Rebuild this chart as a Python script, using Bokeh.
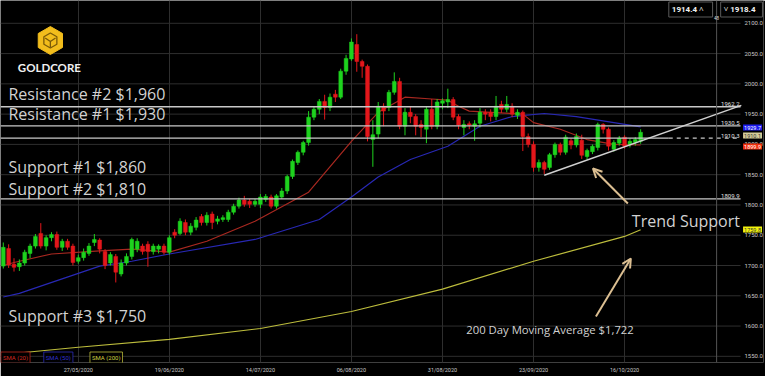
from bokeh.plotting import figure
from bokeh.models import (Range1d, FixedTicker, PrintfTickFormatter, Label, Arrow,
                          OpenHead, Span, ColumnDataSource)
from bokeh.embed import file_html
from bokeh.resources import INLINE

# ---------------- data ----------------
opens = [1699, 1728, 1702, 1698, 1704, 1720, 1732, 1753, 1732, 1746,
         1751, 1730, 1740, 1732, 1707, 1713, 1720, 1738, 1742, 1723,
         1704, 1715, 1686, 1704, 1715, 1727, 1732, 1735, 1723, 1727,
         1732, 1722, 1755, 1753, 1771, 1755, 1763, 1781, 1771, 1785,
         1773, 1776, 1776, 1788, 1798, 1808, 1806, 1801, 1801, 1809,
         1813, 1798, 1813, 1823, 1847, 1870, 1887, 1903, 1945, 1958,
         1971, 1961, 1983, 1978, 2021, 2041, 2065, 2037, 2029, 1908,
         1917, 1963, 1961, 1986, 2004, 1930, 1953, 1946, 1933, 1925,
         1958, 1930, 1968, 1970, 1974, 1946, 1928, 1934, 1930, 1935,
         1953, 1953, 1946, 1966, 1958, 1963, 1948, 1953, 1913, 1900,
         1862, 1870, 1862, 1883, 1900, 1887, 1906, 1899, 1907, 1880,
         1888, 1895, 1933, 1925, 1892, 1902, 1912, 1900, 1903, 1905]
highs = [1738, 1735, 1712, 1710, 1726, 1736, 1752, 1770, 1750, 1755,
         1756, 1744, 1744, 1736, 1718, 1728, 1737, 1752, 1745, 1727,
         1722, 1719, 1710, 1720, 1746, 1745, 1736, 1740, 1736, 1735,
         1736, 1750, 1760, 1778, 1776, 1770, 1780, 1785, 1788, 1789,
         1782, 1783, 1792, 1802, 1812, 1815, 1810, 1810, 1818, 1818,
         1817, 1818, 1828, 1850, 1875, 1890, 1906, 1955, 1962, 1975,
         1982, 1984, 1990, 2025, 2048, 2075, 2082, 2040, 2032, 1940,
         1970, 1968, 1990, 2019, 2010, 1960, 1962, 1950, 1940, 1962,
         1975, 1975, 1976, 1992, 1978, 1950, 1940, 1938, 1940, 1960,
         1958, 1958, 1980, 1972, 1980, 1968, 1958, 1956, 1918, 1905,
         1875, 1873, 1886, 1903, 1903, 1916, 1910, 1918, 1916, 1893,
         1900, 1936, 1935, 1928, 1907, 1914, 1915, 1910, 1912, 1925]
lows = [1695, 1696, 1690, 1691, 1700, 1712, 1728, 1728, 1725, 1740,
        1726, 1724, 1726, 1700, 1703, 1708, 1716, 1732, 1720, 1694,
        1700, 1672, 1682, 1700, 1710, 1722, 1718, 1698, 1718, 1720,
        1718, 1718, 1745, 1750, 1750, 1750, 1758, 1766, 1766, 1760,
        1768, 1772, 1772, 1784, 1794, 1797, 1795, 1797, 1795, 1805,
        1794, 1794, 1810, 1818, 1843, 1866, 1882, 1898, 1940, 1950,
        1941, 1955, 1970, 1975, 2015, 2038, 2020, 2010, 1905, 1863,
        1910, 1930, 1955, 1982, 1925, 1915, 1935, 1915, 1912, 1902,
        1925, 1925, 1958, 1960, 1940, 1925, 1915, 1925, 1906, 1928,
        1940, 1938, 1940, 1952, 1953, 1945, 1942, 1889, 1895, 1855,
        1855, 1851, 1858, 1878, 1882, 1883, 1892, 1895, 1876, 1875,
        1884, 1890, 1918, 1890, 1888, 1898, 1893, 1895, 1898, 1901]
closes = [1730, 1701, 1697, 1704, 1722, 1732, 1748, 1732, 1746, 1751,
          1730, 1740, 1730, 1705, 1713, 1722, 1732, 1743, 1727, 1700,
          1718, 1689, 1704, 1715, 1743, 1740, 1723, 1723, 1732, 1732,
          1722, 1746, 1750, 1773, 1755, 1765, 1775, 1771, 1783, 1771,
          1777, 1779, 1788, 1798, 1808, 1801, 1801, 1806, 1813, 1814,
          1798, 1815, 1823, 1847, 1872, 1887, 1903, 1945, 1958, 1971,
          1961, 1978, 1978, 2021, 2042, 2069, 2037, 2029, 1913, 1916,
          1963, 1955, 1986, 2004, 1930, 1953, 1946, 1930, 1928, 1958,
          1930, 1970, 1972, 1974, 1945, 1932, 1933, 1932, 1934, 1953,
          1950, 1946, 1963, 1958, 1966, 1950, 1953, 1913, 1900, 1862,
          1870, 1859, 1883, 1900, 1887, 1912, 1899, 1913, 1882, 1890,
          1897, 1933, 1925, 1897, 1903, 1910, 1897, 1905, 1908, 1920]

sma20_idx = [0, 2, 9, 18, 24, 31, 38, 47, 57, 65, 70, 75, 80, 83, 85, 87, 91, 97, 99, 104, 109, 114, 119]
sma20_val = [1700, 1705, 1719, 1724, 1727, 1722, 1740, 1773, 1821, 1905, 1953, 1978, 1975, 1973,
             1963, 1955, 1953, 1950, 1936, 1925, 1908, 1900, 1899]
sma50_idx = [0, 3, 18, 24, 31, 47, 59, 65, 70, 76, 83, 89, 95, 101, 107, 114, 119]
sma50_val = [1648, 1654, 1699, 1707, 1719, 1743, 1776, 1813, 1846, 1875, 1897, 1930, 1946,
             1951, 1946, 1936, 1929]
sma200_idx = [0, 14, 31, 48, 65, 82, 99, 116, 119]
sma200_val = [1553, 1565, 1578, 1596, 1624, 1661, 1707, 1748, 1759]

date_ticks = [14, 31, 48, 65, 82, 99, 116]
date_labels = ["27/05/2020", "19/06/2020", "14/07/2020", "06/08/2020",
               "31/08/2020", "23/09/2020", "16/10/2020"]
price_ticks = [1550, 1600, 1650, 1700, 1750, 1800, 1850, 1900, 1950, 2000, 2050, 2100]

levels = [1962.2, 1930.5, 1910.3, 1809.9]
level_labels = ["1962.2", "1930.5", "1910.3", "1809.9"]
trend_idx = [101, 137.8]
trend_val = [1849, 1964.6]

# ---------------- helpers for annotation placement ----------------
def xd(px):
    return (px - 2.8) / 5.37

def yd(py):
    return 2100 - (py - 22.8) / 0.6055

GREEN = "#1ed21e"
RED = "#e3171b"
TXT = "#d2d2d2"
TAN = "#dcbf92"
LVL = "#c9c9c9"

p = figure(width=765, height=376,
           x_range=Range1d(xd(0), xd(765)), y_range=Range1d(yd(362), yd(0)),
           output_backend="svg", toolbar_location=None, y_axis_location="right",
           min_border_left=0, min_border_top=0, min_border_right=0, min_border_bottom=14,
           background_fill_color="#000000", border_fill_color="#000000",
           outline_line_color=None)

# axes
p.yaxis.ticker = FixedTicker(ticks=price_ticks)
p.yaxis.formatter = PrintfTickFormatter(format="%.1f")
p.xaxis.ticker = FixedTicker(ticks=date_ticks)
p.xaxis.major_label_overrides = {t: l for t, l in zip(date_ticks, date_labels)}
for ax in (p.xaxis, p.yaxis):
    ax.axis_line_color = None
    ax.major_tick_line_color = None
    ax.minor_tick_line_color = None
    ax.major_tick_out = 0
    ax.major_tick_in = 0
    ax.minor_tick_out = 0
    ax.minor_tick_in = 0
    ax.major_label_text_color = "#c8c8c8"
    ax.major_label_text_font = "Roboto"
p.yaxis.major_label_text_font_size = "6px"
p.yaxis.major_label_standoff = -19
p.xaxis.major_label_text_font_size = "5.5px"
p.xaxis.major_label_standoff = 4
p.xgrid.grid_line_color = "#2e2e2e"
p.ygrid.grid_line_color = None

# horizontal grid lines, ending where the price scale begins
for t in price_ticks:
    p.line([xd(0), xd(742)], [t, t], line_color="#2e2e2e", line_width=1)

# crosshair
p.add_layout(Span(location=xd(718), dimension="height", line_color="#555555", line_width=1))

# moving averages
p.line(sma200_idx, sma200_val, line_color="#bcbc3c", line_width=1.2)
p.line(sma50_idx, sma50_val, line_color="#2828b4", line_width=1.2)
p.line(sma20_idx, sma20_val, line_color="#a82820", line_width=1.2)

# candles
idx = list(range(len(closes)))
cols = [GREEN if c >= o else RED for o, c in zip(opens, closes)]
src = ColumnDataSource(dict(x=idx, o=opens, h=highs, l=lows, c=closes,
                            top=[max(o, c) for o, c in zip(opens, closes)],
                            bot=[min(o, c) for o, c in zip(opens, closes)],
                            col=cols))
p.segment(x0="x", y0="l", x1="x", y1="h", source=src, line_color="col", line_width=1)
p.vbar(x="x", width=0.7, top="top", bottom="bot", source=src,
       fill_color="col", line_color="col", line_width=0.5)

# support / resistance lines
for lv in (levels[0], levels[1], levels[3]):
    p.line([xd(0), xd(742)], [lv, lv], line_color=LVL, line_width=1.3)
p.line([xd(0), xd(670)], [levels[2], levels[2]], line_color=LVL, line_width=1.3)
p.line([xd(670), xd(742)], [levels[2], levels[2]], line_color=LVL, line_width=1.2,
       line_dash="4 4")
for lv, lt in zip(levels, level_labels):
    p.add_layout(Label(x=xd(741), y=lv, text=lt, text_align="right", text_baseline="bottom",
                       text_font="Roboto", text_font_size="6px", text_color="#e0e0e0",
                       y_offset=0.5))

# trend line
p.line(trend_idx, trend_val, line_color="#d0d0d0", line_width=1.4)

# big annotation texts
def big(txt, px, py, size="16px"):
    p.add_layout(Label(x=xd(px), y=yd(py), text=txt, text_align="left", text_baseline="middle",
                       text_font="Open Sans", text_font_size=size, text_color=TXT))

big("Resistance #2 $1,960", 8, 93)
big("Resistance #1 $1,930", 8, 113)
big("Support #1 $1,860", 8, 166)
big("Support #2 $1,810", 8, 188)
big("Support #3 $1,750", 8, 315)
big("Trend Support", 633, 220, "16px")
big("200 Day Moving Average $1,722", 467, 329, "11.3px")

# arrows
p.add_layout(Arrow(end=OpenHead(size=9, line_color=TAN, line_width=2),
                   x_start=xd(629), y_start=yd(203), x_end=xd(594), y_end=yd(168),
                   line_color=TAN, line_width=2))
p.add_layout(Arrow(end=OpenHead(size=9, line_color=TAN, line_width=2),
                   x_start=xd(597), y_start=yd(316), x_end=xd(632), y_end=yd(258),
                   line_color=TAN, line_width=2))

# logo
p.scatter([xd(50)], [yd(40)], marker="hex", size=28, angle=0.5236,
          fill_color="#f2bd1c", line_color="#f2bd1c")
p.scatter([xd(50)], [yd(40)], marker="hex", size=15, angle=0.5236,
          fill_color=None, line_color="#7a5a08", line_width=1.3)
p.scatter([xd(50)], [yd(41)], marker="y", size=12,
          line_color="#7a5a08", line_width=1.3)
p.add_layout(Label(x=xd(49), y=yd(67), text="GOLDCORE", text_align="center",
                   text_baseline="middle", text_font="Lato", text_font_style="bold",
                   text_font_size="11.5px", text_color="#f0f0f0"))

# header boxes
p.add_layout(Label(x=xd(692), y=yd(9), text="1914.4    \u02c4", text_align="center",
                   text_baseline="middle", text_font="Roboto", text_font_style="bold",
                   text_font_size="8px", text_color="#f0f0f0", border_line_color="#5a5a5a",
                   background_fill_color="#000000", padding=3))
p.add_layout(Label(x=xd(743), y=yd(9), text="\u02c5   1918.4", text_align="center",
                   text_baseline="middle", text_font="Roboto", text_font_style="bold",
                   text_font_size="8px", text_color="#f0f0f0", border_line_color="#5a5a5a",
                   background_fill_color="#000000", padding=3))
p.add_layout(Label(x=xd(718), y=yd(17), text="48", text_align="center",
                   text_baseline="middle", text_font="Roboto", text_font_size="4.5px",
                   text_color="#dddddd"))

# right price boxes
def pbox(txt, py, bg, fg):
    p.add_layout(Label(x=xd(754), y=yd(py), text=txt, text_align="center",
                       text_baseline="middle", text_font="Roboto", text_font_size="5.5px",
                       text_color=fg, background_fill_color=bg, padding=1))

pbox("1929.7", 127, "#1c1cf0", "#ffffff")
pbox("1910.1", 135, "#d6cc98", "#333333")
pbox("1899.9", 146, "#f2300c", "#ffffff")
pbox("1759.8", 229, "#f4f40c", "#333333")

# SMA legend boxes
def leg(txt, px, color):
    p.add_layout(Label(x=xd(px), y=yd(357), text=txt, text_align="center",
                       text_baseline="middle", text_font="Roboto", text_font_size="6px",
                       text_color=color, border_line_color=color, border_line_alpha=0.7,
                       background_fill_color="#000000", padding=2))

leg("SMA (20)", 15, "#d02a20")
leg("SMA (50)", 58, "#3030d0")
leg("SMA (200)", 106, "#d0d040")

open("out.html", "w").write(file_html(p, INLINE))
